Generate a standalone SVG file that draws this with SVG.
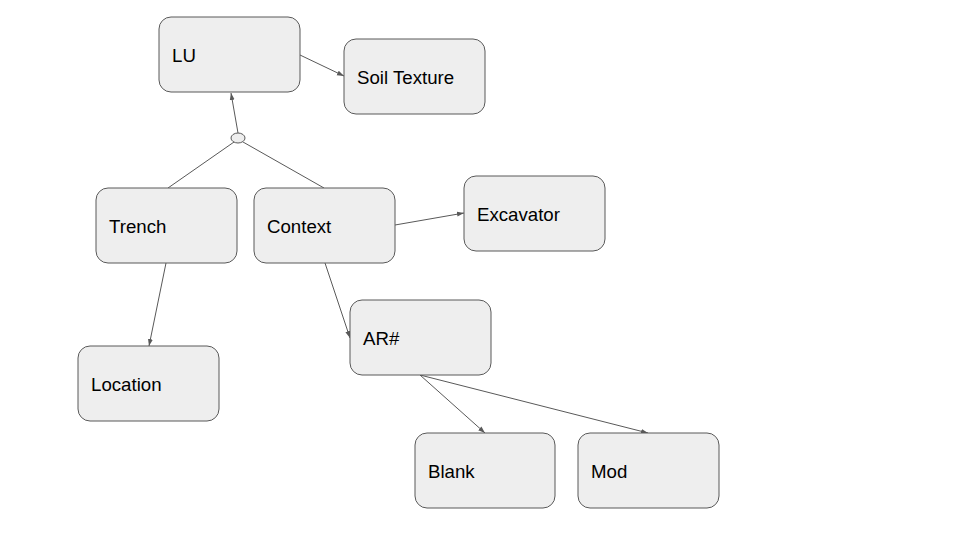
<svg xmlns="http://www.w3.org/2000/svg" width="960" height="540" viewBox="0 0 960 540">
<style>
.n rect{fill:#eeeeee;stroke:#595959;stroke-width:1}
.n text{font-family:"Liberation Sans",Arial,sans-serif;font-size:18.67px;fill:#000}
.c line{stroke:#595959;stroke-width:1}
.a{marker-end:url(#ah)}
</style>
<defs>
<marker id="ah" viewBox="0 0 10 10" refX="10" refY="5" markerWidth="7" markerHeight="7" markerUnits="userSpaceOnUse" orient="auto"><path d="M0,1.5 L10,5 L0,8.5 z" fill="#595959"/></marker>
</defs>
<rect width="960" height="540" fill="#fff"/>
<g class="c" id="connectors">
<line class="a" x1="300" y1="55" x2="344" y2="76"/>
<line class="a" x1="238" y1="133" x2="231" y2="93"/>
<line x1="234" y1="142" x2="168" y2="188"/>
<line x1="243" y1="142" x2="324" y2="188"/>
<line class="a" x1="395" y1="225" x2="464" y2="213"/>
<line class="a" x1="325" y1="263" x2="350" y2="338"/>
<line class="a" x1="166" y1="263" x2="149" y2="346"/>
<line class="a" x1="420" y1="375" x2="485" y2="433"/>
<line class="a" x1="420" y1="375" x2="648" y2="433"/>
<ellipse cx="238" cy="138" rx="7" ry="5" fill="#eeeeee" stroke="#595959"/>
</g>
<g class="n" id="LU"><rect x="159" y="17" width="141" height="75" rx="12"/><text x="172" y="62">LU</text></g>
<g class="n" id="SoilTexture"><rect x="344" y="39" width="141" height="75" rx="12"/><text x="357" y="84">Soil Texture</text></g>
<g class="n" id="Trench"><rect x="96" y="188" width="141" height="75" rx="12"/><text x="109" y="233">Trench</text></g>
<g class="n" id="Context"><rect x="254" y="188" width="141" height="75" rx="12"/><text x="267" y="233">Context</text></g>
<g class="n" id="Excavator"><rect x="464" y="176" width="141" height="75" rx="12"/><text x="477" y="221">Excavator</text></g>
<g class="n" id="AR"><rect x="350" y="300" width="141" height="75" rx="12"/><text x="363" y="345">AR#</text></g>
<g class="n" id="Location"><rect x="78" y="346" width="141" height="75" rx="12"/><text x="91" y="391">Location</text></g>
<g class="n" id="Blank"><rect x="415" y="433" width="140" height="75" rx="12"/><text x="428" y="478">Blank</text></g>
<g class="n" id="Mod"><rect x="578" y="433" width="141" height="75" rx="12"/><text x="591" y="478">Mod</text></g>
</svg>
